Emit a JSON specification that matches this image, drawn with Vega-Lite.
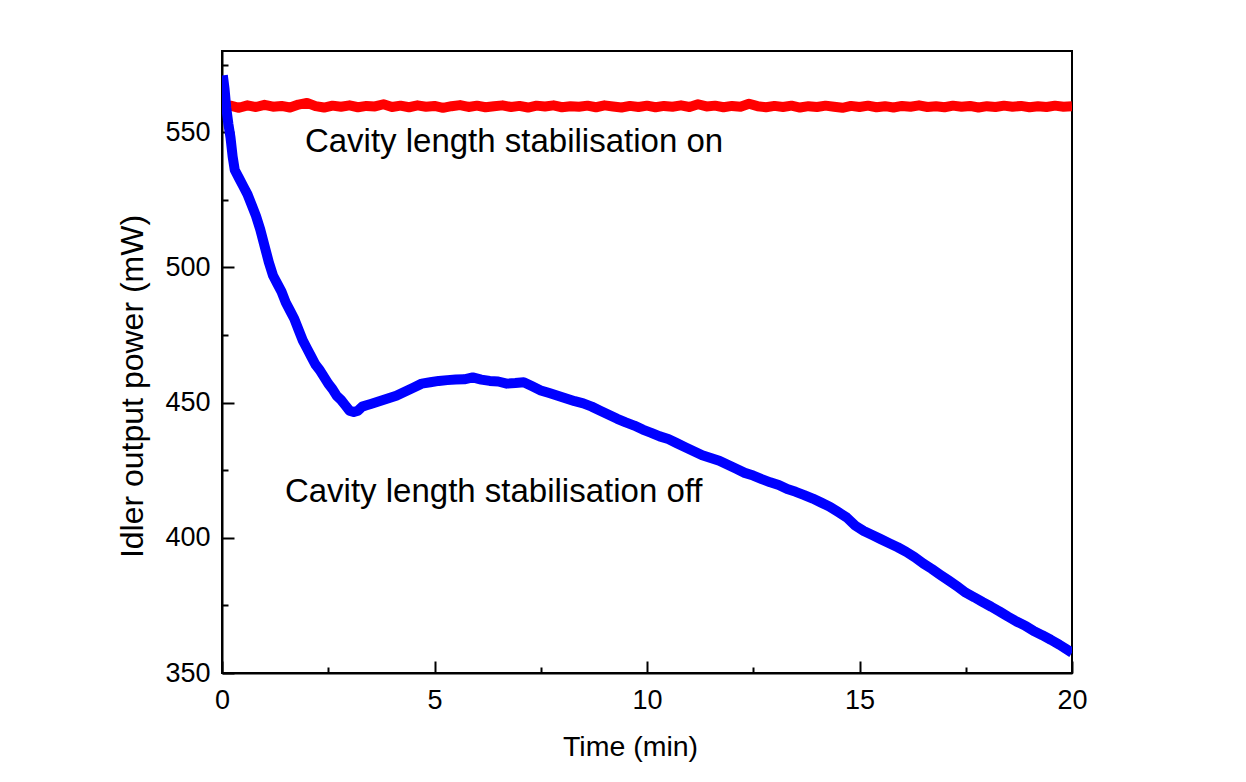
{
  "$schema": "https://vega.github.io/schema/vega-lite/v6.json",
  "autosize": "none",
  "width": 850,
  "height": 622,
  "padding": {"left": 222, "top": 51, "right": 174, "bottom": 109},
  "background": "white",
  "config": {
    "view": {"stroke": "black", "strokeWidth": 2},
    "axis": {
      "grid": false,
      "domainColor": "black",
      "domainWidth": 2,
      "tickColor": "black",
      "tickWidth": 2,
      "labelFont": "Liberation Sans",
      "labelFontSize": 27,
      "labelColor": "black",
      "titleFont": "Liberation Sans",
      "titleFontWeight": "normal",
      "titleColor": "black"
    }
  },
  "datasets": {
    "power": [
      {"t": 0.0, "p": 559.2, "s": "on"}, {"t": 0.2, "p": 559.8, "s": "on"}, {"t": 0.4, "p": 559.0, "s": "on"}, {"t": 0.6, "p": 559.9, "s": "on"},
      {"t": 0.8, "p": 559.3, "s": "on"}, {"t": 1.0, "p": 560.1, "s": "on"}, {"t": 1.2, "p": 559.4, "s": "on"}, {"t": 1.4, "p": 559.7, "s": "on"},
      {"t": 1.6, "p": 559.1, "s": "on"}, {"t": 1.8, "p": 560.2, "s": "on"}, {"t": 2.0, "p": 560.8, "s": "on"}, {"t": 2.2, "p": 559.6, "s": "on"},
      {"t": 2.4, "p": 559.1, "s": "on"}, {"t": 2.6, "p": 559.8, "s": "on"}, {"t": 2.8, "p": 559.4, "s": "on"}, {"t": 3.0, "p": 559.9, "s": "on"},
      {"t": 3.2, "p": 559.2, "s": "on"}, {"t": 3.4, "p": 559.7, "s": "on"}, {"t": 3.6, "p": 559.5, "s": "on"}, {"t": 3.8, "p": 560.3, "s": "on"},
      {"t": 4.0, "p": 559.3, "s": "on"}, {"t": 4.2, "p": 559.8, "s": "on"}, {"t": 4.4, "p": 559.2, "s": "on"}, {"t": 4.6, "p": 559.9, "s": "on"},
      {"t": 4.8, "p": 559.4, "s": "on"}, {"t": 5.0, "p": 559.7, "s": "on"}, {"t": 5.2, "p": 559.0, "s": "on"}, {"t": 5.4, "p": 559.6, "s": "on"},
      {"t": 5.6, "p": 560.0, "s": "on"}, {"t": 5.8, "p": 559.3, "s": "on"}, {"t": 6.0, "p": 559.8, "s": "on"}, {"t": 6.2, "p": 559.2, "s": "on"},
      {"t": 6.4, "p": 559.6, "s": "on"}, {"t": 6.6, "p": 559.9, "s": "on"}, {"t": 6.8, "p": 559.3, "s": "on"}, {"t": 7.0, "p": 559.7, "s": "on"},
      {"t": 7.2, "p": 559.1, "s": "on"}, {"t": 7.4, "p": 559.8, "s": "on"}, {"t": 7.6, "p": 559.5, "s": "on"}, {"t": 7.8, "p": 559.9, "s": "on"},
      {"t": 8.0, "p": 559.2, "s": "on"}, {"t": 8.2, "p": 559.6, "s": "on"}, {"t": 8.4, "p": 559.4, "s": "on"}, {"t": 8.6, "p": 559.8, "s": "on"},
      {"t": 8.8, "p": 559.2, "s": "on"}, {"t": 9.0, "p": 559.9, "s": "on"}, {"t": 9.2, "p": 559.5, "s": "on"}, {"t": 9.4, "p": 559.1, "s": "on"},
      {"t": 9.6, "p": 559.7, "s": "on"}, {"t": 9.8, "p": 559.3, "s": "on"}, {"t": 10.0, "p": 559.8, "s": "on"}, {"t": 10.2, "p": 559.2, "s": "on"},
      {"t": 10.4, "p": 559.7, "s": "on"}, {"t": 10.6, "p": 559.4, "s": "on"}, {"t": 10.8, "p": 559.9, "s": "on"}, {"t": 11.0, "p": 559.3, "s": "on"},
      {"t": 11.2, "p": 560.3, "s": "on"}, {"t": 11.4, "p": 559.5, "s": "on"}, {"t": 11.6, "p": 559.8, "s": "on"}, {"t": 11.8, "p": 559.2, "s": "on"},
      {"t": 12.0, "p": 559.7, "s": "on"}, {"t": 12.2, "p": 559.4, "s": "on"}, {"t": 12.4, "p": 560.5, "s": "on"}, {"t": 12.6, "p": 559.6, "s": "on"},
      {"t": 12.8, "p": 559.2, "s": "on"}, {"t": 13.0, "p": 559.7, "s": "on"}, {"t": 13.2, "p": 559.3, "s": "on"}, {"t": 13.4, "p": 559.8, "s": "on"},
      {"t": 13.6, "p": 559.1, "s": "on"}, {"t": 13.8, "p": 559.6, "s": "on"}, {"t": 14.0, "p": 559.3, "s": "on"}, {"t": 14.2, "p": 559.8, "s": "on"},
      {"t": 14.4, "p": 559.4, "s": "on"}, {"t": 14.6, "p": 559.0, "s": "on"}, {"t": 14.8, "p": 559.7, "s": "on"}, {"t": 15.0, "p": 559.3, "s": "on"},
      {"t": 15.2, "p": 559.8, "s": "on"}, {"t": 15.4, "p": 559.2, "s": "on"}, {"t": 15.6, "p": 559.6, "s": "on"}, {"t": 15.8, "p": 559.1, "s": "on"},
      {"t": 16.0, "p": 559.7, "s": "on"}, {"t": 16.2, "p": 559.4, "s": "on"}, {"t": 16.4, "p": 559.9, "s": "on"}, {"t": 16.6, "p": 559.3, "s": "on"},
      {"t": 16.8, "p": 559.6, "s": "on"}, {"t": 17.0, "p": 559.2, "s": "on"}, {"t": 17.2, "p": 559.8, "s": "on"}, {"t": 17.4, "p": 559.4, "s": "on"},
      {"t": 17.6, "p": 559.7, "s": "on"}, {"t": 17.8, "p": 559.1, "s": "on"}, {"t": 18.0, "p": 559.6, "s": "on"}, {"t": 18.2, "p": 559.3, "s": "on"},
      {"t": 18.4, "p": 559.8, "s": "on"}, {"t": 18.6, "p": 559.4, "s": "on"}, {"t": 18.8, "p": 559.7, "s": "on"}, {"t": 19.0, "p": 559.2, "s": "on"},
      {"t": 19.2, "p": 559.6, "s": "on"}, {"t": 19.4, "p": 559.3, "s": "on"}, {"t": 19.6, "p": 559.8, "s": "on"}, {"t": 19.8, "p": 559.4, "s": "on"},
      {"t": 20.0, "p": 559.6, "s": "on"},
      {"t": 0.02, "p": 571, "s": "off"}, {"t": 0.06, "p": 566, "s": "off"}, {"t": 0.1, "p": 559, "s": "off"}, {"t": 0.15, "p": 553, "s": "off"},
      {"t": 0.2, "p": 548, "s": "off"}, {"t": 0.25, "p": 541, "s": "off"}, {"t": 0.3, "p": 536, "s": "off"}, {"t": 0.4, "p": 533, "s": "off"},
      {"t": 0.5, "p": 530, "s": "off"}, {"t": 0.6, "p": 527, "s": "off"}, {"t": 0.7, "p": 523, "s": "off"}, {"t": 0.8, "p": 519, "s": "off"},
      {"t": 0.9, "p": 514, "s": "off"}, {"t": 1.0, "p": 508, "s": "off"}, {"t": 1.1, "p": 502, "s": "off"}, {"t": 1.2, "p": 497, "s": "off"},
      {"t": 1.3, "p": 494, "s": "off"}, {"t": 1.4, "p": 491, "s": "off"}, {"t": 1.5, "p": 487, "s": "off"}, {"t": 1.6, "p": 484, "s": "off"},
      {"t": 1.7, "p": 481, "s": "off"}, {"t": 1.8, "p": 477, "s": "off"}, {"t": 1.9, "p": 473, "s": "off"}, {"t": 2.0, "p": 470, "s": "off"},
      {"t": 2.1, "p": 467, "s": "off"}, {"t": 2.2, "p": 464, "s": "off"}, {"t": 2.3, "p": 462, "s": "off"}, {"t": 2.4, "p": 459.5, "s": "off"},
      {"t": 2.5, "p": 457, "s": "off"}, {"t": 2.6, "p": 455, "s": "off"}, {"t": 2.7, "p": 452.5, "s": "off"}, {"t": 2.8, "p": 451, "s": "off"},
      {"t": 2.9, "p": 449, "s": "off"}, {"t": 3.0, "p": 447, "s": "off"}, {"t": 3.1, "p": 446.5, "s": "off"}, {"t": 3.2, "p": 447, "s": "off"},
      {"t": 3.3, "p": 448.5, "s": "off"}, {"t": 3.4, "p": 449, "s": "off"}, {"t": 3.5, "p": 449.5, "s": "off"}, {"t": 3.7, "p": 450.5, "s": "off"},
      {"t": 3.9, "p": 451.5, "s": "off"}, {"t": 4.1, "p": 452.5, "s": "off"}, {"t": 4.3, "p": 454, "s": "off"}, {"t": 4.5, "p": 455.5, "s": "off"},
      {"t": 4.7, "p": 457, "s": "off"}, {"t": 4.9, "p": 457.5, "s": "off"}, {"t": 5.1, "p": 458, "s": "off"}, {"t": 5.3, "p": 458.3, "s": "off"},
      {"t": 5.5, "p": 458.5, "s": "off"}, {"t": 5.7, "p": 458.6, "s": "off"}, {"t": 5.9, "p": 459.3, "s": "off"}, {"t": 6.1, "p": 458.5, "s": "off"},
      {"t": 6.3, "p": 458, "s": "off"}, {"t": 6.5, "p": 457.8, "s": "off"}, {"t": 6.7, "p": 457, "s": "off"}, {"t": 6.9, "p": 457.2, "s": "off"},
      {"t": 7.1, "p": 457.5, "s": "off"}, {"t": 7.3, "p": 456, "s": "off"}, {"t": 7.5, "p": 454.5, "s": "off"}, {"t": 7.7, "p": 453.5, "s": "off"},
      {"t": 7.9, "p": 452.5, "s": "off"}, {"t": 8.1, "p": 451.5, "s": "off"}, {"t": 8.3, "p": 450.5, "s": "off"}, {"t": 8.5, "p": 449.7, "s": "off"},
      {"t": 8.7, "p": 448.5, "s": "off"}, {"t": 8.9, "p": 447, "s": "off"}, {"t": 9.1, "p": 445.5, "s": "off"}, {"t": 9.3, "p": 444, "s": "off"},
      {"t": 9.5, "p": 442.7, "s": "off"}, {"t": 9.7, "p": 441.5, "s": "off"}, {"t": 9.9, "p": 440, "s": "off"}, {"t": 10.1, "p": 438.8, "s": "off"},
      {"t": 10.3, "p": 437.5, "s": "off"}, {"t": 10.5, "p": 436.5, "s": "off"}, {"t": 10.7, "p": 435, "s": "off"}, {"t": 10.9, "p": 433.5, "s": "off"},
      {"t": 11.1, "p": 432, "s": "off"}, {"t": 11.3, "p": 430.5, "s": "off"}, {"t": 11.5, "p": 429.5, "s": "off"}, {"t": 11.7, "p": 428.5, "s": "off"},
      {"t": 11.9, "p": 427, "s": "off"}, {"t": 12.1, "p": 425.5, "s": "off"}, {"t": 12.3, "p": 424, "s": "off"}, {"t": 12.5, "p": 423, "s": "off"},
      {"t": 12.7, "p": 421.7, "s": "off"}, {"t": 12.9, "p": 420.5, "s": "off"}, {"t": 13.1, "p": 419.5, "s": "off"}, {"t": 13.3, "p": 418, "s": "off"},
      {"t": 13.5, "p": 417, "s": "off"}, {"t": 13.7, "p": 415.8, "s": "off"}, {"t": 13.9, "p": 414.5, "s": "off"}, {"t": 14.1, "p": 413, "s": "off"},
      {"t": 14.3, "p": 411.5, "s": "off"}, {"t": 14.5, "p": 409.5, "s": "off"}, {"t": 14.7, "p": 407.5, "s": "off"}, {"t": 14.9, "p": 404.5, "s": "off"},
      {"t": 15.1, "p": 402.5, "s": "off"}, {"t": 15.3, "p": 401, "s": "off"}, {"t": 15.5, "p": 399.5, "s": "off"}, {"t": 15.7, "p": 398, "s": "off"},
      {"t": 15.9, "p": 396.5, "s": "off"}, {"t": 16.1, "p": 394.8, "s": "off"}, {"t": 16.3, "p": 392.8, "s": "off"}, {"t": 16.5, "p": 390.5, "s": "off"},
      {"t": 16.7, "p": 388.5, "s": "off"}, {"t": 16.9, "p": 386.3, "s": "off"}, {"t": 17.1, "p": 384.2, "s": "off"}, {"t": 17.3, "p": 382, "s": "off"},
      {"t": 17.5, "p": 379.7, "s": "off"}, {"t": 17.7, "p": 378, "s": "off"}, {"t": 17.9, "p": 376.2, "s": "off"}, {"t": 18.1, "p": 374.5, "s": "off"},
      {"t": 18.3, "p": 372.7, "s": "off"}, {"t": 18.5, "p": 370.8, "s": "off"}, {"t": 18.7, "p": 369, "s": "off"}, {"t": 18.9, "p": 367.5, "s": "off"},
      {"t": 19.1, "p": 365.5, "s": "off"}, {"t": 19.3, "p": 364, "s": "off"}, {"t": 19.5, "p": 362.3, "s": "off"}, {"t": 19.7, "p": 360.5, "s": "off"},
      {"t": 19.9, "p": 358.5, "s": "off"}, {"t": 20.0, "p": 357.5, "s": "off"}
    ],
    "notes": [
      {"t": 1.95, "p": 542.6, "label": "Cavity length stabilisation on"},
      {"t": 1.48, "p": 413.3, "label": "Cavity length stabilisation off"}
    ]
  },
  "layer": [
    {
      "data": {"name": "power"},
      "mark": {"type": "line", "strokeWidth": 10, "strokeJoin": "round", "strokeCap": "butt", "clip": true},
      "encoding": {
        "x": {
          "field": "t", "type": "quantitative",
          "scale": {"domain": [0, 20], "nice": false, "zero": false},
          "axis": {
            "title": "Time (min)",
            "titleFontSize": 28.5,
            "titleX": 408,
            "titleY": 82,
            "titleBaseline": "alphabetic",
            "values": [0, 2.5, 5, 7.5, 10, 12.5, 15, 17.5, 20],
            "labelExpr": "datum.value % 5 == 0 ? datum.label : ''",
            "tickSize": {"expr": "datum.value % 5 == 0 ? -12 : -6"},
            "labelPadding": 26,
            "labelFlush": false
          }
        },
        "y": {
          "field": "p", "type": "quantitative",
          "scale": {"domain": [350, 580], "nice": false, "zero": false},
          "axis": {
            "title": "Idler output power (mW)",
            "titleFontSize": 32,
            "titleX": -80,
            "titleY": 335,
            "titleAngle": -90,
            "titleBaseline": "alphabetic",
            "values": [350, 375, 400, 425, 450, 475, 500, 525, 550, 575],
            "labelExpr": "datum.value % 50 == 0 ? datum.label : ''",
            "tickSize": {"expr": "datum.value % 50 == 0 ? -12 : -6"},
            "labelPadding": 24,
            "labelFlush": false
          }
        },
        "color": {
          "field": "s", "type": "nominal",
          "scale": {"domain": ["on", "off"], "range": ["#ff0000", "#0000ff"]},
          "legend": null
        },
        "order": {"field": "t", "type": "quantitative"}
      }
    },
    {
      "data": {"name": "notes"},
      "mark": {"type": "text", "align": "left", "baseline": "alphabetic", "font": "Liberation Sans", "fontSize": 33, "color": "black"},
      "encoding": {
        "x": {"field": "t", "type": "quantitative"},
        "y": {"field": "p", "type": "quantitative"},
        "text": {"field": "label"}
      }
    }
  ]
}
